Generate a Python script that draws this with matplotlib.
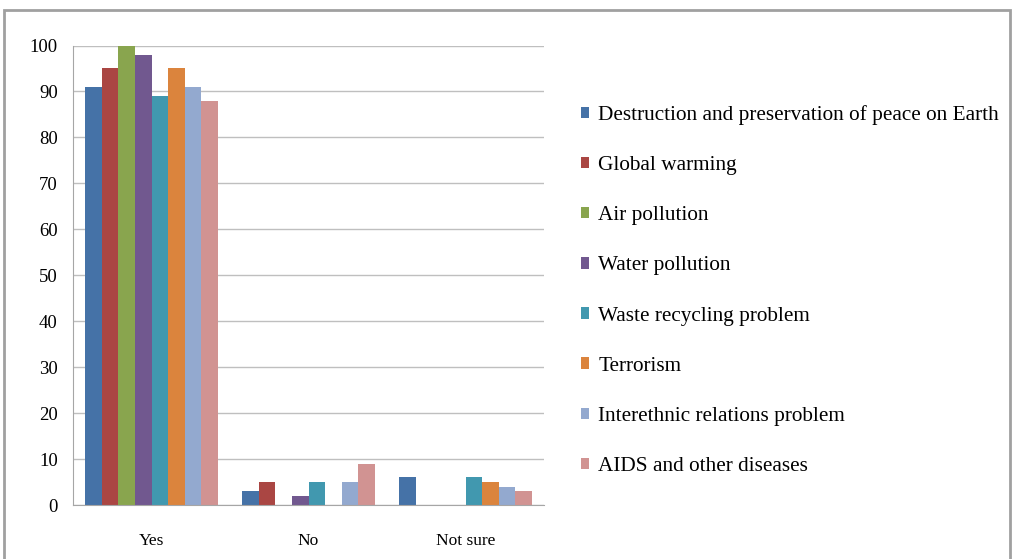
import numpy as np
import matplotlib.pyplot as plt
from matplotlib.patches import Rectangle

plt.rcParams['font.family'] = ['Liberation Serif', 'DejaVu Serif']

categories = ['Yes', 'No', 'Not sure']
series_names = [
    'Destruction and preservation of peace on Earth',
    'Global warming',
    'Air pollution',
    'Water pollution',
    'Waste recycling problem',
    'Terrorism',
    'Interethnic relations problem',
    'AIDS and other diseases',
]
peace = [91, 3, 6]
warming = [95, 5, 0]
air = [100, 0, 0]
water = [98, 2, 0]
waste = [89, 5, 6]
terror = [95, 0, 5]
ethnic = [91, 5, 4]
aids = [88, 9, 3]
colors = ['#4572a7', '#aa4643', '#89a54e', '#71588f', '#4198af',
          '#db843d', '#93a9cf', '#d19392']

values = [peace, warming, air, water, waste, terror, ethnic, aids]

fig = plt.figure(figsize=(10.14, 5.59), dpi=100)
ax = fig.add_axes([73 / 1014, 1 - 505 / 559, 471 / 1014, 459.5 / 559])

# outer frame of the chart
fig.patches.append(Rectangle((4 / 1014, -0.05), 1006 / 1014, 1 - 10 / 559 + 0.05,
                             transform=fig.transFigure, fill=False,
                             edgecolor='#a0a0a0', linewidth=2))

x = np.arange(len(categories))
n = len(values)
w = 0.847 / n
for i, (vals, name, c) in enumerate(zip(values, series_names, colors)):
    ax.bar(x - 0.4235 + w * (i + 0.5), vals, width=w, color=c, label=name)

ax.set_xlim(-0.5, 2.5)
ax.set_ylim(0, 100)
ax.set_yticks(range(0, 101, 10))
ax.set_xticks(x)
ax.set_xticklabels(categories)
ax.grid(axis='y', color='#bfbfbf', linewidth=1)
ax.set_axisbelow(True)
for s in ['top', 'right']:
    ax.spines[s].set_visible(False)
ax.spines['left'].set_color('#a6a6a6')
ax.spines['bottom'].set_color('#a6a6a6')
ax.tick_params(axis='y', length=0, labelsize=13.5, pad=11)
ax.tick_params(axis='x', length=0, labelsize=12.5, pad=20)

leg = fig.legend(loc='upper left', bbox_to_anchor=(562 / 1014, 1 - 86 / 559),
                 frameon=False, fontsize=15.3, handlelength=0.36, handleheight=0.45,
                 handletextpad=0.45, labelspacing=1.465)

fig.savefig('out.png', dpi=100)
